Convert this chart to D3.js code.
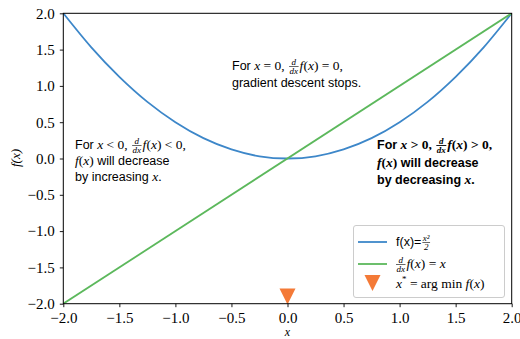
<!DOCTYPE html>
<html>
<head>
<meta charset="utf-8">
<script src="https://cdn.jsdelivr.net/npm/d3@7"></script>
<style>
  body { margin: 0; background: #fff; }
  svg text { fill: #000; }
</style>
</head>
<body>
<div class="contain"></div>
<script>
// curve samples of f(x) and its derivative
const curveX = [-2, -1.75, -1.5, -1.25, -1, -0.75, -0.5, -0.25, 0, 0.25, 0.5, 0.75, 1, 1.25, 1.5, 1.75, 2];
const curveY = [2, 1.53, 1.125, 0.78, 0.5, 0.28, 0.125, 0.03, 0, 0.03, 0.125, 0.28, 0.5, 0.78, 1.125, 1.53, 2];
const gradX = [-2, 2];
const gradY = [-2, 2];
const minX = [0];
const minY = [-1.9];
const xTicks = [-2, -1.5, -1, -0.5, 0, 0.5, 1, 1.5, 2];
const yTicks = [-2, -1.5, -1, -0.5, 0, 0.5, 1, 1.5, 2];

const svg_width = 520;
const svg_height = 339;
const plotLeft = 63.3, plotRight = 511.7, plotTop = 13.3, plotBottom = 303.7;

const blue = "#3d87c9", green = "#5cb85c", orange = "#f47a37";
const sans = "'Liberation Sans', Arial, sans-serif";
const serif = "'Liberation Serif', 'Times New Roman', serif";

let svg = d3.select(".contain").append("svg")
            .attr("width", svg_width).attr("height", svg_height);

let xScale = d3.scaleLinear().domain([-2, 2]).range([plotLeft, plotRight]);
let yScale = d3.scaleLinear().domain([-2, 2]).range([plotBottom, plotTop]);

const fmt = (d) => d3.format(".1f")(d).replace("-", "\u2212");

// axes
let xAxis = d3.axisBottom(xScale).tickValues(xTicks).tickFormat(fmt).tickSize(3.5).tickPadding(5);
svg.append("g").attr("transform", `translate(0, ${plotBottom})`).call(xAxis);
let yAxis = d3.axisLeft(yScale).tickValues(yTicks).tickFormat(fmt).tickSize(3.5).tickPadding(5);
svg.append("g").attr("transform", `translate(${plotLeft}, 0)`).call(yAxis);
svg.selectAll(".tick text").attr("font-family", serif).attr("font-size", 15);
svg.selectAll(".domain").remove();
svg.selectAll(".tick line").attr("stroke", "#000").attr("stroke-width", 0.9);

// clipped lines
svg.append("clipPath").attr("id", "clip").append("rect")
  .attr("x", plotLeft).attr("y", plotTop).attr("width", plotRight - plotLeft).attr("height", plotBottom - plotTop);

let line = d3.line().x(d => xScale(d[0])).y(d => yScale(d[1])).curve(d3.curveNatural);
svg.append("path").datum(d3.zip(curveX, curveY))
  .attr("d", line).attr("fill", "none").attr("stroke", blue).attr("stroke-width", 1.8)
  .attr("clip-path", "url(#clip)");
svg.append("path").datum(d3.zip(gradX, gradY))
  .attr("d", d3.line().x(d => xScale(d[0])).y(d => yScale(d[1])))
  .attr("fill", "none").attr("stroke", green).attr("stroke-width", 1.8)
  .attr("clip-path", "url(#clip)");

// minimum marker
const tri = (s) => `M${-s},${-s}L${s},${-s}L0,${s}Z`;
svg.selectAll(".minpt").data(d3.zip(minX, minY)).enter().append("path")
  .attr("class", "minpt")
  .attr("transform", d => `translate(${xScale(d[0])},${yScale(d[1])})`)
  .attr("d", tri(8)).attr("fill", orange);

// frame
svg.append("rect").attr("x", plotLeft).attr("y", plotTop)
  .attr("width", plotRight - plotLeft).attr("height", plotBottom - plotTop)
  .attr("fill", "none").attr("stroke", "#000").attr("stroke-width", 1);

// axis labels
svg.append("text").attr("x", (plotLeft + plotRight) / 2).attr("y", 336)
  .attr("text-anchor", "middle").attr("font-family", serif).attr("font-style", "italic")
  .attr("font-size", 12).text("x");
svg.append("text").attr("transform", "translate(20, 158) rotate(-90)")
  .attr("text-anchor", "middle").attr("font-family", serif).attr("font-style", "italic")
  .attr("font-size", 13).text("f(x)");

// rich text helper: s = sans, m = math italic, r = math upright, sup = superscript, frac = [num, den]
function rich(g, x, y, pieces, bold) {
  let cx = x;
  pieces.forEach((p) => {
    if (p.frac) {
      let n = g.append("text").attr("y", y - 5).attr("font-family", serif)
        .attr("font-style", "italic").attr("font-size", 9).attr("font-weight", bold ? "bold" : null).text(p.frac[0]);
      let d = g.append("text").attr("y", y + 4).attr("font-family", serif)
        .attr("font-style", "italic").attr("font-size", 9).attr("font-weight", bold ? "bold" : null).text(p.frac[1]);
      let wn = n.node().getComputedTextLength(), wd = d.node().getComputedTextLength();
      let w = Math.max(wn, wd) + 1;
      n.attr("x", cx + 1 + (w - wn) / 2);
      d.attr("x", cx + 1 + (w - wd) / 2);
      g.append("line").attr("x1", cx + 1).attr("x2", cx + 1 + w)
        .attr("y1", y - 3.5).attr("y2", y - 3.5).attr("stroke", "#000").attr("stroke-width", bold ? 0.9 : 0.6);
      cx += w + 2;
    } else {
      let t = g.append("text").attr("x", cx).attr("y", p.k === "sup" ? y - 6 : y).text(p.t)
        .attr("font-weight", bold ? "bold" : null)
        .attr("font-family", p.k === "s" ? sans : serif)
        .attr("font-style", p.k === "m" ? "italic" : null)
        .attr("font-size", p.k === "s" ? 12.5 : p.k === "sup" ? 9 : 13.5)
        .attr("xml:space", "preserve");
      cx += t.node().getComputedTextLength();
    }
  });
  return cx;
}

const notes = svg.append("g");
rich(notes, 232, 70, [{k: "s", t: "For "}, {k: "m", t: "x"}, {k: "r", t: " = 0, "},
  {frac: ["d", "dx"]}, {k: "m", t: "f"}, {k: "r", t: "("}, {k: "m", t: "x"}, {k: "r", t: ") = 0,"}]);
rich(notes, 232, 87, [{k: "s", t: "gradient descent stops."}]);

rich(notes, 75, 149, [{k: "s", t: "For "}, {k: "m", t: "x"}, {k: "r", t: " < 0, "},
  {frac: ["d", "dx"]}, {k: "m", t: "f"}, {k: "r", t: "("}, {k: "m", t: "x"}, {k: "r", t: ") < 0,"}]);
rich(notes, 75, 165, [{k: "m", t: "f"}, {k: "r", t: "("}, {k: "m", t: "x"}, {k: "r", t: ")"}, {k: "s", t: " will decrease"}]);
rich(notes, 75, 181, [{k: "s", t: "by increasing "}, {k: "m", t: "x"}, {k: "r", t: "."}]);

rich(notes, 377, 149, [{k: "s", t: "For "}, {k: "m", t: "x"}, {k: "r", t: " > 0, "},
  {frac: ["d", "dx"]}, {k: "m", t: "f"}, {k: "r", t: "("}, {k: "m", t: "x"}, {k: "r", t: ") > 0,"}], true);
rich(notes, 377, 167, [{k: "m", t: "f"}, {k: "r", t: "("}, {k: "m", t: "x"}, {k: "r", t: ")"}, {k: "s", t: " will decrease"}], true);
rich(notes, 377, 184, [{k: "s", t: "by decreasing "}, {k: "m", t: "x"}, {k: "r", t: "."}], true);

// legend
const lg = svg.append("g");
lg.append("rect").attr("x", 353.5).attr("y", 225.5).attr("width", 151).attr("height", 72)
  .attr("rx", 2.5).attr("fill", "#fff").attr("fill-opacity", 0.8)
  .attr("stroke", "#ccc").attr("stroke-width", 1);
lg.append("line").attr("x1", 358).attr("x2", 387).attr("y1", 242).attr("y2", 242)
  .attr("stroke", blue).attr("stroke-width", 1.8);
lg.append("line").attr("x1", 358).attr("x2", 387).attr("y1", 264).attr("y2", 264)
  .attr("stroke", green).attr("stroke-width", 1.8);
lg.append("path").attr("transform", "translate(372.5, 283)").attr("d", tri(8)).attr("fill", orange);
rich(lg, 396, 246, [{k: "s", t: "f(x)="}, {frac: ["x\u00b2", "2"]}]);
rich(lg, 395, 268, [{frac: ["d", "dx"]}, {k: "m", t: "f"}, {k: "r", t: "("}, {k: "m", t: "x"}, {k: "r", t: ") = "}, {k: "m", t: "x"}]);
rich(lg, 396, 288, [{k: "m", t: "x"}, {k: "sup", t: "*"}, {k: "r", t: " = arg min "}, {k: "m", t: "f"}, {k: "r", t: "("}, {k: "m", t: "x"}, {k: "r", t: ")"}]);
</script>
</body>
</html>
